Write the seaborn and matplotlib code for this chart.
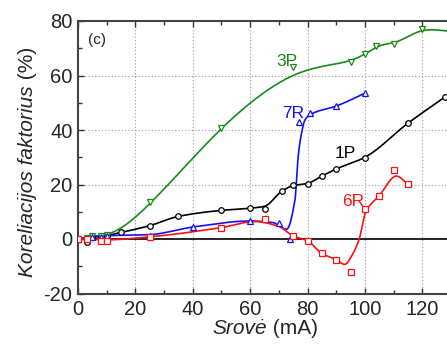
import numpy as np
import matplotlib
matplotlib.use("Agg")
import matplotlib.pyplot as plt
import seaborn as sns
from matplotlib.ticker import MultipleLocator

# ---- data ----
# 1P (black, circles)
p1_x = [0, 3, 5, 8, 10, 15, 25, 35, 50, 60, 65, 71, 75, 80, 85, 90, 100, 115, 128]
p1_y = [0, -1.0, 0.8, 0.8, 1.2, 2.4, 4.9, 8.6, 10.5, 11.3, 11.1, 17.5, 19.8, 20.2, 23.1, 25.7, 29.7, 42.5, 52.2]
p1_cx = [0, 5, 10, 15, 25, 35, 50, 60, 65, 71, 75, 80, 85, 90, 100, 115, 128]
p1_cy = [0, 0.6, 1.3, 2.4, 4.9, 8.3, 10.5, 11.3, 12.0, 17.5, 19.6, 20.4, 23.1, 25.7, 30.0, 42.5, 52.2]

# 3P (green, down triangles)
p3_x = [0, 3, 5, 8, 10, 25, 50, 75, 95, 100, 104, 110, 120]
p3_y = [0, 0.2, 1.0, 1.0, 1.5, 13.5, 40.8, 63.2, 65.1, 67.8, 70.8, 71.7, 77.1]
p3_cx = [0, 5, 10, 25.5, 50.3, 62, 76.3, 87.9, 94.5, 100.3, 104.4, 110.5, 119.5, 125, 129]
p3_cy = [0, 0.9, 1.7, 13.5, 40.8, 51.5, 60.6, 63.9, 65.4, 68.1, 70.6, 72.2, 76.3, 76.7, 76.3]

# 7R (blue, up triangles)
r7_x = [0, 5, 8, 10, 25, 40, 60, 70, 74, 77, 81, 90, 100]
r7_y = [0, 0.8, 0.8, 1.2, 1.2, 4.5, 6.6, 5.8, 0.1, 42.8, 46.4, 48.9, 53.5]
r7_cx = [0, 5, 10, 25, 40, 60, 68, 72.7, 75.6, 76.8, 77.9, 79.1, 81.2, 90.3, 100]
r7_cy = [0, 0.8, 1.2, 1.6, 4.4, 6.6, 6.0, 3.6, 14.3, 31.0, 38.8, 43.7, 45.8, 48.9, 53.5]

# 6R (red, squares)
r6_x = [0, 3, 8, 10, 25, 50, 65, 75, 80, 85, 90, 95, 100, 105, 110, 115]
r6_y = [-0.1, 0.0, -0.7, -0.6, 0.8, 4.2, 7.5, 1.1, -0.7, -5.3, -7.6, -12.1, 11.1, 15.9, 25.4, 20.1]
r6_cx = [0, 10, 25, 50, 61.7, 70, 75, 80, 85, 90, 93, 95.5, 98, 100.3, 105, 111, 115]
r6_cy = [-0.1, -0.3, 0.8, 4.2, 6.4, 4.6, 1.1, -0.7, -5.3, -7.6, -9.3, -6.0, 0.0, 10.0, 15.9, 23.1, 20.1]

labels = ["1P", "3P", "7R", "6R"]
label_x = [93.1, 72.7, 75.0, 95.9]
label_y = [31.4, 65.0, 46.1, 13.9]


def pchip(x, y, xs):
    x = np.asarray(x, float)
    y = np.asarray(y, float)
    h = np.diff(x)
    d = np.diff(y) / h
    n = len(x)
    m = np.zeros(n)
    for k in range(1, n - 1):
        if d[k - 1] * d[k] <= 0:
            m[k] = 0.0
        else:
            w1 = 2 * h[k] + h[k - 1]
            w2 = h[k] + 2 * h[k - 1]
            m[k] = (w1 + w2) / (w1 / d[k - 1] + w2 / d[k])
    m[0] = d[0]
    m[-1] = d[-1]
    idx = np.clip(np.searchsorted(x, xs) - 1, 0, n - 2)
    t = (xs - x[idx]) / h[idx]
    h00 = 2 * t**3 - 3 * t**2 + 1
    h10 = t**3 - 2 * t**2 + t
    h01 = -2 * t**3 + 3 * t**2
    h11 = t**3 - t**2
    return h00 * y[idx] + h10 * h[idx] * m[idx] + h01 * y[idx + 1] + h11 * h[idx] * m[idx + 1]


def natural_spline(x, y, xs):
    x = np.asarray(x, float)
    y = np.asarray(y, float)
    n = len(x)
    h = np.diff(x)
    A = np.zeros((n, n))
    b = np.zeros(n)
    A[0, 0] = 1
    A[-1, -1] = 1
    for i in range(1, n - 1):
        A[i, i - 1] = h[i - 1]
        A[i, i] = 2 * (h[i - 1] + h[i])
        A[i, i + 1] = h[i]
        b[i] = 3 * ((y[i + 1] - y[i]) / h[i] - (y[i] - y[i - 1]) / h[i - 1])
    c = np.linalg.solve(A, b)
    bb = (y[1:] - y[:-1]) / h - h * (2 * c[:-1] + c[1:]) / 3
    dd = (c[1:] - c[:-1]) / (3 * h)
    idx = np.clip(np.searchsorted(x, xs) - 1, 0, n - 2)
    t = xs - x[idx]
    return y[idx] + bb[idx] * t + c[idx] * t**2 + dd[idx] * t**3


sns.set_theme(style="ticks")
plt.rcParams["font.family"] = ["Liberation Sans", "DejaVu Sans"]
plt.rcParams["axes.unicode_minus"] = False

W, H = 447, 347
fig = plt.figure(figsize=(W / 100, H / 100), dpi=100)
ax = fig.add_axes([78 / W, 1 - 293.5 / H, (W - 78) / W, 272.5 / H])

series = [
    (p1_x, p1_y, p1_cx, p1_cy, "black", "o", pchip),
    (p3_x, p3_y, p3_cx, p3_cy, "#1a8a1a", "v", natural_spline),
    (r7_x, r7_y, r7_cx, r7_cy, "#1010ff", "^", pchip),
    (r6_x, r6_y, r6_cx, r6_cy, "#ff1010", "s", pchip),
]

ax.axhline(0, color="black", lw=1.2, zorder=1)

for (mx, my, cx, cy, col, mk, fn), lab, lx, ly in zip(series, labels, label_x, label_y):
    xs = np.linspace(cx[0], cx[-1], 600)
    ys = fn(cx, cy, xs)
    sns.lineplot(x=xs, y=ys, color=col, lw=1.2, ax=ax, sort=False,
                 estimator=None, zorder=3)
    sns.lineplot(x=mx, y=my, color=col, linestyle="", marker=mk,
                 markersize=4, markerfacecolor="white", markeredgecolor=col,
                 markeredgewidth=0.9, ax=ax, estimator=None, sort=False, zorder=4)
    ax.text(lx, ly, lab, color=col, fontsize=12.5, ha="center", va="center", zorder=5)

ax.text(6.5, 73, "(c)", fontsize=11, ha="center", va="center")

ax.set_xlim(0, 128.6)
ax.set_ylim(-20, 80)
ax.xaxis.set_major_locator(MultipleLocator(20))
ax.xaxis.set_minor_locator(MultipleLocator(10))
ax.yaxis.set_major_locator(MultipleLocator(20))
ax.yaxis.set_minor_locator(MultipleLocator(10))

for gx in [20, 40, 60, 80, 100, 120]:
    ax.axvline(gx, color="#999999", lw=0.8, ls=(0, (1, 2)), zorder=0)
for gy in [20, 40, 60]:
    ax.axhline(gy, color="#999999", lw=0.8, ls=(0, (1, 2)), zorder=0)

ax.tick_params(which="both", direction="in", top=True, right=False,
               labelsize=14.5, color="#333333")
ax.tick_params(which="major", length=4, width=1)
ax.tick_params(which="minor", length=3, width=1)
ax.tick_params(axis="x", pad=5)
ax.tick_params(axis="y", pad=4)

for s in ["left", "bottom", "top"]:
    ax.spines[s].set_color("#444444")
    ax.spines[s].set_linewidth(1.5)
ax.spines["right"].set_visible(False)

# axis labels: italic word + upright unit
fs = 15
fig.canvas.draw()
r = fig.canvas.get_renderer()

xa = fig.text(0, 0, "Srovė", style="italic", fontsize=fs, ha="left", va="baseline")
xb = fig.text(0, 0, " (mA)", fontsize=fs, ha="left", va="baseline")
wa = xa.get_window_extent(r).width
wb = xb.get_window_extent(r).width
x0 = 265 - (wa + wb) / 2
yb = 1 - 334 / H
xa.set_position((x0 / W, yb))
xb.set_position(((x0 + wa) / W, yb))

ya = fig.text(0, 0, "Koreliacijos faktorius", style="italic", fontsize=fs,
              rotation=90, rotation_mode="anchor", ha="left", va="baseline")
yb2 = fig.text(0, 0, " (%)", fontsize=fs, rotation=90, rotation_mode="anchor",
               ha="left", va="baseline")
la = ya.get_window_extent(r).height
lb = yb2.get_window_extent(r).height
ymid = H - 162
y0 = ymid - (la + lb) / 2
xbase = 33 / W
ya.set_position((xbase, y0 / H))
yb2.set_position((xbase, (y0 + la) / H))

fig.savefig("out.png", dpi=100)
